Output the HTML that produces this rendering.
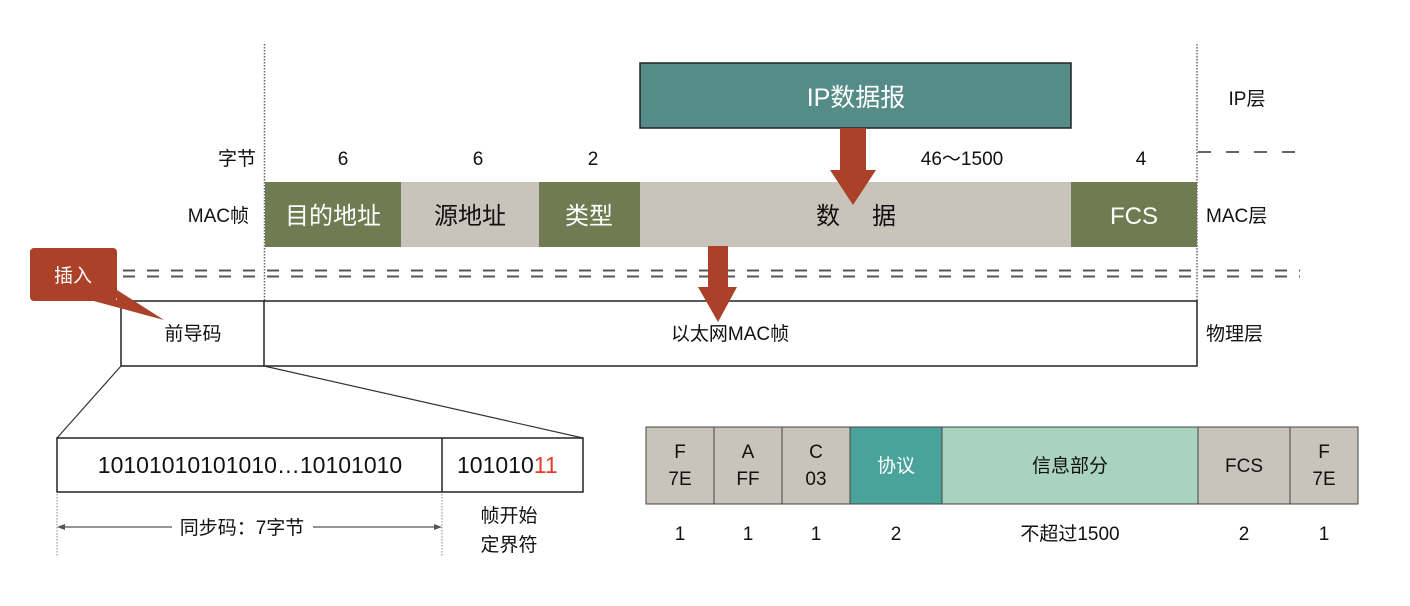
<!DOCTYPE html>
<html><head><meta charset="utf-8"><style>
html,body{margin:0;padding:0;background:#fff;width:1410px;height:606px;overflow:hidden}
svg text{font-family:"Liberation Sans","Noto Sans CJK SC",sans-serif}
</style></head><body>
<svg width="1410" height="606" viewBox="0 0 1410 606" xmlns="http://www.w3.org/2000/svg">
<!-- vertical dotted lines -->
<line x1="264.5" y1="44" x2="264.5" y2="302" stroke="#666" stroke-width="1.5" stroke-dasharray="1.5,1.5"/>
<line x1="1197" y1="44" x2="1197" y2="302" stroke="#666" stroke-width="1.5" stroke-dasharray="1.5,1.5"/>
<!-- IP datagram -->
<rect x="640" y="63" width="431" height="65" fill="#568c88" stroke="#222" stroke-width="1.5"/>
<text x="856" y="106" font-size="25" fill="#fff" text-anchor="middle">IP数据报</text>
<text x="1247" y="105" font-size="19" fill="#111" text-anchor="middle">IP层</text>
<line x1="1198" y1="152" x2="1295" y2="152" stroke="#666" stroke-width="2" stroke-dasharray="13,15"/>
<!-- byte counts -->
<text x="256" y="165" font-size="19" fill="#111" text-anchor="end">字节</text>
<text x="343" y="165" font-size="19" fill="#111" text-anchor="middle">6</text>
<text x="478" y="165" font-size="19" fill="#111" text-anchor="middle">6</text>
<text x="593" y="165" font-size="19" fill="#111" text-anchor="middle">2</text>
<text x="962" y="165" font-size="19" fill="#111" text-anchor="middle">46～1500</text>
<text x="1141" y="165" font-size="19" fill="#111" text-anchor="middle">4</text>
<!-- MAC frame -->
<text x="249" y="222" font-size="19" fill="#111" text-anchor="end">MAC帧</text>
<rect x="265" y="182" width="136" height="65" fill="#6f7c52"/>
<rect x="401" y="182" width="138" height="65" fill="#c8c4bb"/>
<rect x="539" y="182" width="101" height="65" fill="#6f7c52"/>
<rect x="640" y="182" width="431" height="65" fill="#c8c4bb"/>
<rect x="1071" y="182" width="126" height="65" fill="#6f7c52"/>
<text x="333" y="224" font-size="24" fill="#fff" text-anchor="middle">目的地址</text>
<text x="470" y="224" font-size="24" fill="#111" text-anchor="middle">源地址</text>
<text x="589" y="224" font-size="24" fill="#fff" text-anchor="middle">类型</text>
<text x="828" y="224" font-size="24" fill="#111" text-anchor="middle">数</text>
<text x="884" y="224" font-size="24" fill="#111" text-anchor="middle">据</text>
<text x="1134" y="224" font-size="24" fill="#fff" text-anchor="middle">FCS</text>
<text x="1206" y="222" font-size="19" fill="#111">MAC层</text>
<!-- arrow 1 -->
<polygon points="840,128 866,128 866,170 876,170 853,205 830,170 840,170" fill="#aa4128"/>
<!-- double dashed line -->
<line x1="123" y1="270.5" x2="1300" y2="270.5" stroke="#555" stroke-width="2" stroke-dasharray="12,12"/>
<line x1="123" y1="276.5" x2="1300" y2="276.5" stroke="#555" stroke-width="2" stroke-dasharray="12,12"/>
<!-- physical -->
<rect x="121" y="301" width="1076" height="65" fill="none" stroke="#222" stroke-width="1.5"/>
<line x1="264" y1="301" x2="264" y2="366" stroke="#222" stroke-width="1.5"/>
<text x="193" y="340" font-size="19" fill="#111" text-anchor="middle">前导码</text>
<text x="730" y="340" font-size="19" fill="#111" text-anchor="middle">以太网MAC帧</text>
<text x="1206" y="340" font-size="19" fill="#111">物理层</text>
<!-- arrow 2 -->
<polygon points="708,246 728,246 728,287 737,287 718,322 698,287 708,287" fill="#aa4128"/>
<!-- callout -->
<rect x="30" y="248" width="87" height="53" rx="4" fill="#aa4128"/>
<polygon points="90,300 117,300 117,290 164,320" fill="#aa4128"/>
<text x="73" y="282" font-size="19" fill="#fff" text-anchor="middle">插入</text>
<!-- zoom lines -->
<line x1="121" y1="366" x2="57" y2="438" stroke="#333" stroke-width="1.2"/>
<line x1="264" y1="366" x2="583" y2="438" stroke="#333" stroke-width="1.2"/>
<!-- preamble detail -->
<rect x="57" y="438" width="526" height="54" fill="none" stroke="#222" stroke-width="1.5"/>
<line x1="442" y1="438" x2="442" y2="492" stroke="#222" stroke-width="1.5"/>
<text x="250" y="473" font-size="23" fill="#111" text-anchor="middle">10101010101010…10101010</text>
<text x="457" y="473" font-size="23" fill="#111">101010<tspan fill="#e0402a">11</tspan></text>
<line x1="57" y1="494" x2="57" y2="556" stroke="#888" stroke-width="1" stroke-dasharray="1.5,1.5"/>
<line x1="442" y1="494" x2="442" y2="556" stroke="#888" stroke-width="1" stroke-dasharray="1.5,1.5"/>
<line x1="59" y1="527" x2="172" y2="527" stroke="#555" stroke-width="1.2"/>
<line x1="313" y1="527" x2="440" y2="527" stroke="#555" stroke-width="1.2"/>
<polygon points="57,527 65,524 65,530" fill="#555"/>
<polygon points="442,527 434,524 434,530" fill="#555"/>
<text x="242" y="534" font-size="19" fill="#111" text-anchor="middle">同步码：7字节</text>
<text x="509" y="522" font-size="19" fill="#111" text-anchor="middle">帧开始</text>
<text x="509" y="551" font-size="19" fill="#111" text-anchor="middle">定界符</text>
<!-- PPP frame -->
<g stroke="#444" stroke-width="1">
<rect x="646" y="427" width="68" height="77" fill="#c8c4bb"/>
<rect x="714" y="427" width="68" height="77" fill="#c8c4bb"/>
<rect x="782" y="427" width="68" height="77" fill="#c8c4bb"/>
<rect x="850" y="427" width="92" height="77" fill="#4aa39b"/>
<rect x="942" y="427" width="256" height="77" fill="#a9d3c0"/>
<rect x="1198" y="427" width="92" height="77" fill="#c8c4bb"/>
<rect x="1290" y="427" width="68" height="77" fill="#c8c4bb"/>
</g>
<g font-size="19" fill="#111" text-anchor="middle">
<text x="680" y="458">F</text><text x="680" y="485">7E</text>
<text x="748" y="458">A</text><text x="748" y="485">FF</text>
<text x="816" y="458">C</text><text x="816" y="485">03</text>
<text x="896" y="472" fill="#fff">协议</text>
<text x="1070" y="472">信息部分</text>
<text x="1244" y="472">FCS</text>
<text x="1324" y="458">F</text><text x="1324" y="485">7E</text>
<text x="680" y="540">1</text>
<text x="748" y="540">1</text>
<text x="816" y="540">1</text>
<text x="896" y="540">2</text>
<text x="1070" y="540">不超过1500</text>
<text x="1244" y="540">2</text>
<text x="1324" y="540">1</text>
</g>
</svg>
</body></html>
